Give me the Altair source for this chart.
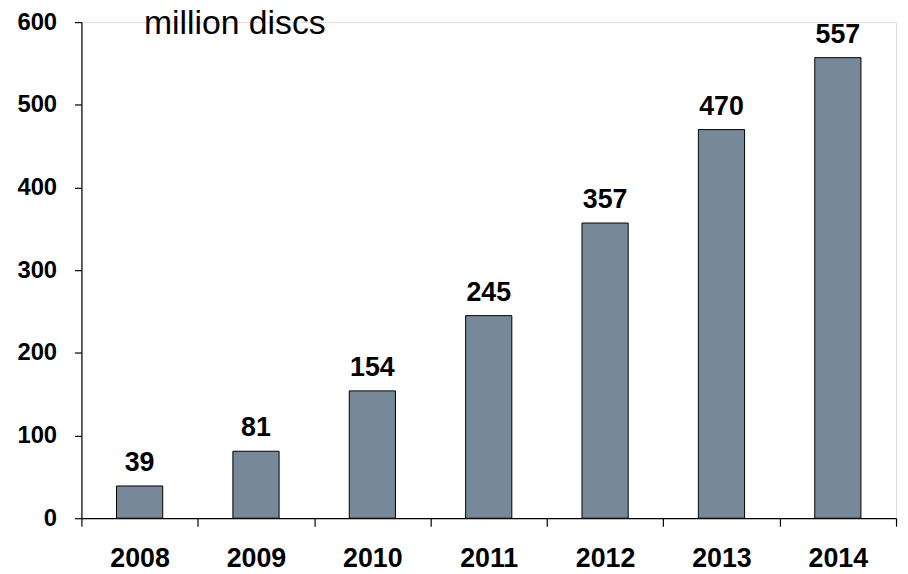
import altair as alt
import pandas as pd

years = ["2008", "2009", "2010", "2011", "2012", "2013", "2014"]
discs = [39, 81, 154, 245, 357, 470, 557]
unit_label = ["million discs"]

df = pd.DataFrame({"year": years, "discs": discs})

FONT = "Liberation Sans"

x_enc = alt.X(
    "year:N",
    sort=years,
    scale=alt.Scale(paddingInner=0, paddingOuter=0),
    axis=alt.Axis(
        title=None,
        tickBand="extent",
        labelAngle=0,
        labelFont=FONT,
        labelFontSize=27,
        labelFontWeight="bold",
        labelColor="black",
        labelPadding=20,
        tickSize=8,
        tickColor="black",
        domainColor="black",
        tickWidth=1.2,
        domainWidth=1.2,
    ),
)
y_enc = alt.Y(
    "discs:Q",
    scale=alt.Scale(domain=[0, 600], nice=False),
    axis=alt.Axis(
        title=None,
        values=[0, 100, 200, 300, 400, 500, 600],
        grid=False,
        labelFont=FONT,
        labelFontSize=24,
        labelFontWeight="bold",
        labelColor="black",
        labelPadding=18,
        tickSize=7,
        tickColor="black",
        domainColor="black",
        tickWidth=1.2,
        domainWidth=1.2,
    ),
)

base = alt.Chart(df).encode(x=x_enc, y=y_enc)

bars = base.mark_bar(
    width=alt.RelativeBandSize(0.397),
    color="#778899",
    stroke="black",
    strokeWidth=1,
)

labels = base.mark_text(
    dy=-15,
    baseline="alphabetic",
    font=FONT,
    fontSize=27,
    fontWeight="bold",
    color="black",
).encode(text="discs:Q")

unit = alt.Chart(pd.DataFrame({"t": unit_label})).mark_text(
    align="left",
    baseline="alphabetic",
    font=FONT,
    fontSize=34,
    color="black",
).encode(text="t:N", x=alt.value(63), y=alt.value(12))

chart = (
    alt.layer(bars, labels, unit)
    .properties(
        width=821,
        height=500,
        autosize=alt.AutoSizeParams(type="none"),
        padding={"left": 74, "top": 12, "right": 4, "bottom": 54},
    )
    .configure_view(stroke=None)
    .configure(background="white")
)

chart.save("out.html", embed_options={"renderer": "svg", "actions": False})
